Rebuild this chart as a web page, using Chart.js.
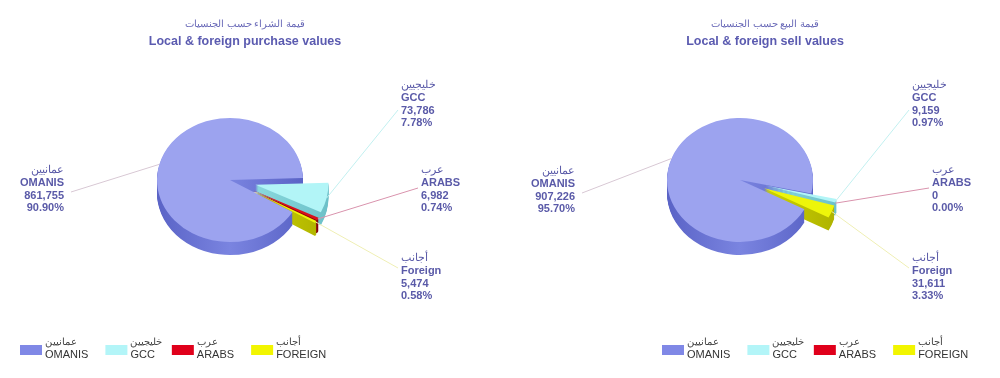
<!DOCTYPE html>
<html>
<head>
<meta charset="utf-8">
<script src="https://cdn.jsdelivr.net/npm/chart.js@4.4.1/dist/chart.umd.min.js"></script>
<style>
  html, body { margin: 0; padding: 0; background: #fff; }
  #wrap { display: flex; width: 1000px; height: 378px; }
  canvas { display: block; }
</style>
</head>
<body>
<div id="wrap">
  <canvas id="buy" width="500" height="378"></canvas>
  <canvas id="sell" width="500" height="378"></canvas>
</div>
<script>
// categories
const namesEn = ["OMANIS", "GCC", "ARABS", "FOREIGN"]
const namesAr = ["عمانيين", "خليجيين", "عرب", "أجانب"]
const labelNames = ["OMANIS", "GCC", "ARABS", "Foreign"]

// values (OMR)
const purchaseValues = [861755, 73786, 6982, 5474]
const sellValues = [907226, 9159, 0, 31611]

const FONT = '"Liberation Sans", Arial, sans-serif'
const TEXT = "#5a5aa8"

const topColors = ["#9ca3ef", "#b2f5f7", "#d8101c", "#eef50a"]
const sideColors = ["#7a84e0", "#8ad9de", "#a8000f", "#cdd200"]
const sideDark = ["#5a63c6", "#6cc0c8", "#80000a", "#aeb200"]
const legendColors = ["#8088e6", "#b3f5f8", "#e0001b", "#f2f500"]
const leaderColors = ["#d8c8d4", "#c2f0f0", "#d993ad", "#efefb4"]

Chart.defaults.font.family = FONT

function drawLabels(chart, cfg) {
  const ctx = chart.ctx
  const arcs = chart.getDatasetMeta(0).data
  const total = cfg.values.reduce((a, b) => a + b, 0)

  arcs.forEach((arc, i) => {
    const p = arc.getProps(["startAngle", "endAngle", "outerRadius"])
    const mid = (p.startAngle + p.endAngle) / 2
    const r = p.outerRadius + cfg.explode[i]
    const ax = cfg.cx + Math.cos(mid) * r
    const ay = cfg.cy + Math.sin(mid) * r * cfg.tilt
    const L = cfg.labels[i]
    const right = L.align === "right"

    ctx.save()
    ctx.strokeStyle = leaderColors[i]
    ctx.lineWidth = 1
    ctx.beginPath()
    ctx.moveTo(ax, ay)
    ctx.lineTo(right ? L.x + 7 : L.x - 3, L.y + L.ly)
    ctx.stroke()

    ctx.textAlign = right ? "right" : "left"
    ctx.textBaseline = "middle"
    ctx.fillStyle = TEXT
    ctx.font = "10.5px " + FONT
    ctx.fillText(namesAr[i], L.x, L.y)
    ctx.font = "bold 11px " + FONT
    ctx.fillText(labelNames[i], L.x, L.y + 13)
    ctx.fillText(cfg.values[i].toLocaleString("en-US"), L.x, L.y + 25.5)
    ctx.fillText((cfg.values[i] / total * 100).toFixed(2) + "%", L.x, L.y + 38)
    ctx.restore()
  })
}

function drawLegend(chart, x0) {
  const ctx = chart.ctx
  let x = x0
  ctx.save()
  ctx.textAlign = "left"
  ctx.textBaseline = "middle"
  namesEn.forEach((n, i) => {
    ctx.fillStyle = legendColors[i]
    ctx.fillRect(x, 345, 22, 10)
    ctx.fillStyle = "#444"
    ctx.font = "10px " + FONT
    ctx.fillText(namesAr[i], x + 25, 342)
    ctx.fillStyle = "#333"
    ctx.font = "11px " + FONT
    const we = ctx.measureText(n).width
    ctx.fillText(n, x + 25, 355)
    x += 25 + we + 17
  })
  ctx.restore()
}

// fake 3D: squash the pie, extrude a side wall, pull the small slices out
function makePie3d(cfg) {
  return {
    id: "pie3d",
    beforeDatasetsDraw(chart) {
      const ctx = chart.ctx
      const arcs = chart.getDatasetMeta(0).data

      const place = (arc, i, dy) => {
        const p = arc.getProps(["x", "y", "startAngle", "endAngle"])
        const mid = (p.startAngle + p.endAngle) / 2
        const ex = cfg.explode[i]
        ctx.translate(cfg.cx + Math.cos(mid) * ex, cfg.cy + Math.sin(mid) * ex * cfg.tilt + dy)
        ctx.scale(1, cfg.tilt)
        ctx.translate(-p.x, -p.y)
      }

      for (let d = cfg.depth; d > 0; d--) {
        arcs.forEach((arc, i) => {
          const p = arc.getProps(["x", "y", "startAngle", "endAngle", "outerRadius", "circumference"])
          if (!p.circumference) return
          ctx.save()
          place(arc, i, d)
          const R = p.outerRadius
          const g = ctx.createLinearGradient(p.x - R, 0, p.x + R, 0)
          g.addColorStop(0, sideDark[i])
          g.addColorStop(0.5, sideColors[i])
          g.addColorStop(1, sideDark[i])
          ctx.beginPath()
          ctx.moveTo(p.x, p.y)
          ctx.arc(p.x, p.y, R, p.startAngle, p.endAngle)
          ctx.closePath()
          ctx.fillStyle = g
          ctx.fill()
          ctx.restore()
        })
      }

      arcs.forEach((arc, i) => {
        ctx.save()
        place(arc, i, 0)
        arc.draw(ctx)
        ctx.restore()
      })
      return false
    },
    afterDraw(chart) {
      drawLabels(chart, cfg)
      drawLegend(chart, cfg.legendX)
    }
  }
}

function pieChart(id, title, subtitle, cfg) {
  return new Chart(document.getElementById(id), {
    type: "pie",
    data: {
      labels: namesEn,
      datasets: [{
        data: cfg.values,
        backgroundColor: topColors,
        borderWidth: 0
      }]
    },
    options: {
      responsive: false,
      animation: false,
      rotation: cfg.rotation,
      radius: 73,
      layout: { padding: cfg.padding },
      plugins: {
        legend: { display: false },
        tooltip: { enabled: false },
        title: {
          display: true,
          text: title,
          color: "#6a6ab8",
          font: { size: 10, weight: "normal" },
          padding: { top: 18, bottom: 4 }
        },
        subtitle: {
          display: true,
          text: subtitle,
          color: "#5b5bb0",
          font: { size: 12.5, weight: "bold" },
          padding: { top: 0, bottom: 0 }
        }
      }
    },
    plugins: [makePie3d(cfg)]
  })
}

pieChart("buy", "قيمة الشراء حسب الجنسيات", "Local & foreign purchase values", {
  values: purchaseValues,
  rotation: 121,
  cx: 230, cy: 180, tilt: 0.85, depth: 13,
  explode: [0, 26, 26, 26],
  padding: { left: 4, right: 14 },
  legendX: 20,
  labels: [
    { x: 64, y: 170, align: "right", ly: 22 },
    { x: 401, y: 85, ly: 25 },
    { x: 421, y: 170, ly: 18 },
    { x: 401, y: 258, ly: 10 }
  ]
})

pieChart("sell", "قيمة البيع حسب الجنسيات", "Local & foreign sell values", {
  values: sellValues,
  rotation: 118,
  cx: 240, cy: 180, tilt: 0.85, depth: 13,
  explode: [0, 26, 26, 26],
  padding: { left: 146, right: 116 },
  legendX: 162,
  labels: [
    { x: 75, y: 171, align: "right", ly: 22 },
    { x: 412, y: 85, ly: 25 },
    { x: 432, y: 170, ly: 18 },
    { x: 412, y: 258, ly: 10 }
  ]
})
</script>
</body>
</html>
